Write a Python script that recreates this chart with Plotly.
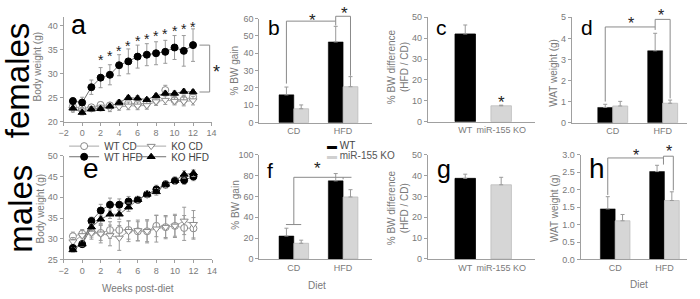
import plotly.graph_objects as go

W, H = 700, 299
FONT = "Liberation Sans, Arial, Helvetica, sans-serif"
AXC = "#a0a0a0"
TICKC = "#7a7a7a"
ERRC = "#9a9a9a"

# ---------------- data ----------------
weeks = list(range(-1, 13))

# females body weight (g)
f_wt_cd = [23.2, 22.8, 23.0, 23.5, 23.4, 23.8, 23.9, 23.7, 23.8, 24.5, 26.6, 24.5, 24.6, 25.2]
f_wt_cd_err = [0.6, 0.7, 0.5, 0.6, 0.6, 0.7, 0.8, 0.8, 0.9, 0.8, 1.0, 0.8, 0.9, 0.9]
f_ko_cd = [22.6, 22.3, 22.7, 22.9, 22.8, 23.1, 23.3, 23.3, 23.4, 24.2, 24.5, 24.3, 24.2, 24.4]
f_ko_cd_err = [0.6, 0.6, 0.5, 0.6, 0.7, 0.7, 0.8, 0.8, 0.8, 0.8, 0.9, 0.8, 0.9, 0.9]
f_wt_hfd = [24.3, 24.0, 27.2, 29.2, 29.8, 31.8, 32.6, 33.6, 34.0, 34.3, 34.6, 35.5, 34.8, 36.0]
f_wt_hfd_err = [0.7, 1.1, 1.5, 2.1, 2.1, 2.2, 2.6, 2.4, 2.3, 2.4, 2.4, 2.5, 3.2, 3.4]
f_ko_hfd = [22.8, 21.9, 22.6, 22.7, 23.2, 24.0, 25.0, 24.9, 24.6, 25.4, 25.9, 25.9, 26.3, 26.2]
f_ko_hfd_err = [0.5, 0.5, 0.4, 0.4, 0.5, 0.5, 0.5, 0.5, 0.4, 0.5, 0.5, 0.5, 0.5, 0.5]
f_star_weeks = [2, 3, 4, 5, 6, 7, 8, 9, 10, 11, 12]
f_star_y = [33.5, 34.3, 35.5, 36.5, 37.5, 38.0, 38.5, 39.0, 39.6, 40.0, 40.5]

# males body weight (g)
m_wt_cd = [30.6, 31.2, 31.6, 31.4, 32.1, 32.1, 32.1, 31.8, 31.8, 33.1, 32.8, 33.1, 32.6, 32.5]
m_wt_cd_err = [1.0, 1.0, 1.2, 1.8, 2.0, 2.0, 2.2, 2.3, 2.5, 2.6, 2.5, 2.5, 3.0, 2.6]
m_ko_cd = [29.3, 30.8, 31.4, 31.2, 30.8, 30.2, 31.8, 32.0, 31.8, 32.4, 32.8, 33.1, 34.3, 33.5]
m_ko_cd_err = [1.0, 1.2, 1.5, 2.2, 2.5, 3.0, 2.5, 2.5, 2.8, 3.2, 2.8, 2.8, 3.3, 3.3]
m_wt_hfd = [27.8, 28.7, 34.3, 36.8, 38.2, 38.2, 39.0, 39.4, 40.7, 41.9, 43.1, 44.0, 44.1, 45.0]
m_wt_hfd_err = [0.5, 0.6, 0.9, 1.5, 1.6, 1.4, 1.2, 0.8, 0.7, 1.0, 0.9, 0.8, 1.0, 1.0]
m_ko_hfd = [27.3, 28.7, 32.8, 34.7, 35.9, 35.9, 37.6, 39.4, 40.7, 41.3, 43.1, 44.0, 45.5, 45.8]
m_ko_hfd_err = [0.5, 0.5, 0.8, 1.0, 1.0, 1.2, 1.0, 0.8, 0.7, 0.8, 0.8, 0.9, 0.9, 0.8]

diets = ["CD", "HFD"]
genotypes = ["WT", "miR-155 KO"]

# % BW gain
f_gain_wt = [16, 46.5]
f_gain_wt_err = [4.5, 9]
f_gain_ko = [8, 20.7]
f_gain_ko_err = [2.2, 5.8]
m_gain_wt = [22, 75]
m_gain_wt_err = [7.5, 7]
m_gain_ko = [15, 59.5]
m_gain_ko_err = [3, 7]

# % BW difference (HFD / CD)
f_diff = [42, 7.6]
f_diff_err = [4.3, 0.3]
m_diff = [38.7, 35.6]
m_diff_err = [2, 3.6]

# WAT weight (g)
f_wat_wt = [0.72, 3.41]
f_wat_wt_err = [0.15, 0.83]
f_wat_ko = [0.79, 0.92]
f_wat_ko_err = [0.22, 0.15]
m_wat_wt = [1.45, 2.52]
m_wat_wt_err = [0.35, 0.18]
m_wat_ko = [1.11, 1.69]
m_wat_ko_err = [0.18, 0.25]


def px(x):
    return x / W


def py(y):
    return 1 - y / H


# axis geometry: pixel extent + data range
XDEF = {
    "x": ((59.5, 209.5), [-2, 14]),
    "x2": ((258, 372), [-0.7, 1.58]),
    "x3": ((429, 538), [-1.04, 1.95]),
    "x4": ((575, 692), [-0.82, 1.49]),
    "x5": ((59.5, 210), [-2, 14]),
    "x6": ((258, 372), [-0.7, 1.58]),
    "x7": ((429, 538), [-1.04, 1.95]),
    "x8": ((584, 692), [-0.70, 1.46]),
}
YDEF = {
    "y": ((120.7, 12.8), [20, 41.8]),
    "y2": ((121.7, 14), [0, 60]),
    "y3": ((120.7, 12.7), [0, 50]),
    "y4": ((121.7, 12.7), [0, 5]),
    "y5": ((263.3, 156), [25, 50]),
    "y6": ((262.7, 155), [0, 100]),
    "y7": ((262.7, 155), [0, 50]),
    "y8": ((263.3, 155), [0, 3]),
}


def to_paper(xa, ya, x, y):
    (a0, a1), (r0, r1) = XDEF[xa]
    (b0, b1), (s0, s1) = YDEF[ya]
    X = a0 + (x - r0) / (r1 - r0) * (a1 - a0)
    Y = b0 + (y - s0) / (s1 - s0) * (b1 - b0)
    return px(X), py(Y)


fig = go.Figure()


def line_trace(y, err, name, symbol, fill, edge, lcolor, xa, ya, legend, show):
    fig.add_trace(go.Scatter(
        x=weeks, y=y, name=name, mode="lines+markers", xaxis=xa, yaxis=ya,
        line=dict(color=lcolor, width=1),
        marker=dict(symbol=symbol, size=7, color=fill, line=dict(color=edge, width=1)),
        error_y=dict(type="data", array=err, color=ERRC, thickness=1, width=2),
        legend=legend, showlegend=show))


for (xa, ya, wcd, wcde, kcd, kcde, whf, whfe, khf, khfe, show) in [
    ("x", "y", f_wt_cd, f_wt_cd_err, f_ko_cd, f_ko_cd_err, f_wt_hfd, f_wt_hfd_err, f_ko_hfd, f_ko_hfd_err, True),
    ("x5", "y5", m_wt_cd, m_wt_cd_err, m_ko_cd, m_ko_cd_err, m_wt_hfd, m_wt_hfd_err, m_ko_hfd, m_ko_hfd_err, False),
]:
    line_trace(wcd, wcde, "WT CD", "circle", "white", "#8a8a8a", "#a8a8a8", xa, ya, "legend", show)
    line_trace(kcd, kcde, "KO CD", "triangle-down", "white", "#8a8a8a", "#a8a8a8", xa, ya, "legend2", show)
    line_trace(whf, whfe, "WT HFD", "circle", "black", "black", "#707070", xa, ya, "legend3", show)
    line_trace(khf, khfe, "KO HFD", "triangle-up", "black", "black", "#707070", xa, ya, "legend4", show)

KO_FILL = "#d6d6d6"
KO_EDGE = "#bdbdbd"


def bar_pair(wt, wt_err, ko, ko_err, xa, ya):
    fig.add_trace(go.Bar(
        x=diets, y=wt, width=0.3, offset=-0.3, name="WT", xaxis=xa, yaxis=ya,
        marker=dict(color="black", line=dict(color="black", width=0.5)),
        error_y=dict(type="data", array=wt_err, arrayminus=[0] * len(wt), symmetric=False,
                     color=ERRC, thickness=1, width=2),
        showlegend=False))
    fig.add_trace(go.Bar(
        x=diets, y=ko, width=0.3, offset=0.0, name="miR-155 KO", xaxis=xa, yaxis=ya,
        marker=dict(color=KO_FILL, line=dict(color=KO_EDGE, width=0.8)),
        error_y=dict(type="data", array=ko_err, arrayminus=[0] * len(ko), symmetric=False,
                     color=ERRC, thickness=1, width=2),
        showlegend=False))


def bar_single(vals, errs, xa, ya):
    fig.add_trace(go.Bar(
        x=genotypes, y=vals, width=0.57, xaxis=xa, yaxis=ya, showlegend=False,
        marker=dict(color=["black", KO_FILL], line=dict(color=["black", KO_EDGE], width=0.8)),
        error_y=dict(type="data", array=errs, arrayminus=[0] * len(vals), symmetric=False,
                     color=ERRC, thickness=1, width=2)))


bar_pair(f_gain_wt, f_gain_wt_err, f_gain_ko, f_gain_ko_err, "x2", "y2")
bar_single(f_diff, f_diff_err, "x3", "y3")
bar_pair(f_wat_wt, f_wat_wt_err, f_wat_ko, f_wat_ko_err, "x4", "y4")
bar_pair(m_gain_wt, m_gain_wt_err, m_gain_ko, m_gain_ko_err, "x6", "y6")
bar_single(m_diff, m_diff_err, "x7", "y7")
bar_pair(m_wat_wt, m_wat_wt_err, m_wat_ko, m_wat_ko_err, "x8", "y8")

# ---------------- axes ----------------
tickfont = dict(family=FONT, size=9, color=TICKC)


def xaxis(name, anchor, ticks=True, **kw):
    dom, rng = XDEF[name]
    d = dict(domain=[px(dom[0]), px(dom[1])], range=rng, anchor=anchor,
             showline=True, linecolor=AXC, linewidth=1, showgrid=False, zeroline=False,
             ticks="outside" if ticks else "", ticklen=3, tickcolor=AXC, tickfont=tickfont,
             tickangle=0, fixedrange=True)
    d.update(kw)
    return d


def yaxis(name, anchor, dtick, **kw):
    dom, rng = YDEF[name]
    d = dict(domain=[py(dom[0]), py(dom[1])], range=rng, anchor=anchor,
             showline=True, linecolor=AXC, linewidth=1, showgrid=False, zeroline=False,
             ticks="outside", ticklen=3, tickcolor=AXC, tickfont=tickfont, dtick=dtick,
             tick0=0, fixedrange=True)
    d.update(kw)
    return d


layout_axes = dict(
    xaxis=xaxis("x", "y", dtick=2, tick0=0),
    yaxis=yaxis("y", "x", 5, tickvals=[20, 25, 30, 35, 40]),
    xaxis2=xaxis("x2", "y2", ticks=False, type="category"),
    yaxis2=yaxis("y2", "x2", 10),
    xaxis3=xaxis("x3", "y3", ticks=False, type="category"),
    yaxis3=yaxis("y3", "x3", 10),
    xaxis4=xaxis("x4", "y4", ticks=False, type="category"),
    yaxis4=yaxis("y4", "x4", 1),
    xaxis5=xaxis("x5", "y5", dtick=2, tick0=0),
    yaxis5=yaxis("y5", "x5", 5),
    xaxis6=xaxis("x6", "y6", ticks=False, type="category"),
    yaxis6=yaxis("y6", "x6", 20),
    xaxis7=xaxis("x7", "y7", ticks=False, type="category"),
    yaxis7=yaxis("y7", "x7", 10),
    xaxis8=xaxis("x8", "y8", ticks=False, type="category"),
    yaxis8=yaxis("y8", "x8", 0.5, tickformat=".1f"),
)

# ---------------- significance brackets ----------------
shapes = []
BR = dict(color="#8a8a8a", width=1)


def polyline(xa, ya, pts):
    pp = [to_paper(xa, ya, x, y) for x, y in pts]
    for (x0, y0), (x1, y1) in zip(pp[:-1], pp[1:]):
        shapes.append(dict(type="line", xref="paper", yref="paper",
                           x0=x0, y0=y0, x1=x1, y1=y1, line=BR))


polyline("x", "y", [(12.7, f_wt_hfd[-1]), (13.8, f_wt_hfd[-1]), (13.8, f_ko_hfd[-1]), (12.7, f_ko_hfd[-1])])
polyline("x2", "y2", [(-0.15, 22.5), (-0.15, 58.5), (0.85, 58.5), (0.85, 56)])
polyline("x2", "y2", [(0.85, 58.5), (0.85, 61.3), (1.15, 61.3), (1.15, 27)])
polyline("x4", "y4", [(-0.15, 1.0), (-0.15, 4.54), (0.85, 4.54), (0.85, 4.4)])
polyline("x4", "y4", [(0.85, 4.54), (0.85, 4.9), (1.15, 4.9), (1.15, 1.15)])
polyline("x6", "y6", [(0, 33), (0, 78.4), (1.17, 78.4)])
polyline("x6", "y6", [(-0.16, 33), (0.15, 33)])
polyline("x6", "y6", [(1.0, 78.4), (1.0, 76.5)])
polyline("x8", "y8", [(-0.15, 1.85), (-0.15, 2.91), (0.98, 2.91), (0.98, 2.72)])
polyline("x8", "y8", [(0.98, 2.91), (0.98, 2.96), (1.18, 2.96), (1.18, 1.98)])

# ---------------- annotations ----------------
ann = []


def star(xa, ya, x, y, size=15):
    X, Y = to_paper(xa, ya, x, y)
    ann.append(dict(text="*", xref="paper", yref="paper", x=X, y=Y, showarrow=False,
                    xanchor="center", yanchor="middle", yshift=-0.23 * size,
                    font=dict(family=FONT, size=size, color="#222222")))


for w, sy in zip(f_star_weeks, f_star_y):
    star("x", "y", w, sy, 14)
star("x", "y", 14.5, 31.2, 18)
star("x2", "y2", 0.37, 61.3, 17)
star("x2", "y2", 1.02, 65.0, 17)
star("x3", "y3", 1, 11.1, 17)
star("x4", "y4", 0.37, 4.9, 16)
star("x4", "y4", 0.97, 5.27, 16)
star("x6", "y6", 0.49, 90.7, 17)
star("x8", "y8", 0.42, 3.08, 16)
star("x8", "y8", 1.1, 3.2, 16)


def ptext(text, x, y, size, color="#777", angle=0, xanchor="center", yanchor="middle"):
    ann.append(dict(text=text, xref="paper", yref="paper", x=px(x), y=py(y), showarrow=False,
                    textangle=angle, xanchor=xanchor, yanchor=yanchor,
                    font=dict(family=FONT, size=size, color=color)))


ptext("females", 13, 78, 33, "black", -90)
ptext("males", 16, 211, 33, "black", -90)

for letter, lx, base, size in [("a", 65, 35, 27), ("b", 265, 35, 21), ("c", 435, 35, 21),
                               ("d", 582, 35, 21), ("e", 77, 183, 28), ("f", 264, 183, 21),
                               ("g", 436, 183, 25), ("h", 590, 183, 28)]:
    ptext(letter, lx, base + 0.212 * size - 2, size, "black", 0, "left", "bottom")

ptext("Body weight (g)", 33, 64, 10, TICKC, -90)
ptext("Body weight (g)", 36, 211, 10, TICKC, -90)
ptext("% BW gain", 233, 68, 10, TICKC, -90)
ptext("% BW gain", 233, 207, 10, TICKC, -90)
ptext("% BW difference<br>(HFD / CD)", 399, 64, 10, TICKC, -90)
ptext("% BW difference<br>(HFD / CD)", 399, 210, 10, TICKC, -90)
ptext("WAT weight (g)", 557, 70, 10, TICKC, -90)
ptext("WAT weight (g)", 558, 210, 10, TICKC, -90)
ptext("Weeks post-diet", 135, 293, 10, TICKC)
ptext("Diet", 317, 290, 10, TICKC)
ptext("Diet", 643, 289, 10, TICKC)

# bar-colour key
ptext("<span style='color:#000000'>\u25AC</span> WT", 325, 145, 10, "#444", 0, "left", "middle")
ptext("<span style='color:#d0d0d0'>\u25AC</span> miR-155 KO", 325, 156, 10, "#555", 0, "left", "middle")

legfont = dict(family=FONT, size=10, color="#444")


def leg(x, y):
    return dict(x=px(x), y=py(y), xanchor="left", yanchor="middle", orientation="h",
                font=legfont, bgcolor="rgba(0,0,0,0)", borderwidth=0, itemwidth=30,
                tracegroupgap=0)


fig.update_layout(
    width=W, height=H, margin=dict(l=0, r=0, t=0, b=0),
    paper_bgcolor="white", plot_bgcolor="white",
    font=dict(family=FONT, size=10, color=TICKC),
    barmode="overlay",
    shapes=shapes, annotations=ann,
    legend=leg(60, 146), legend2=leg(128, 146),
    legend3=leg(60, 157), legend4=leg(128, 157),
    **layout_axes,
)

fig.write_html("out.html", config={"displayModeBar": False},
               post_script="document.body.style.margin='0px';")
